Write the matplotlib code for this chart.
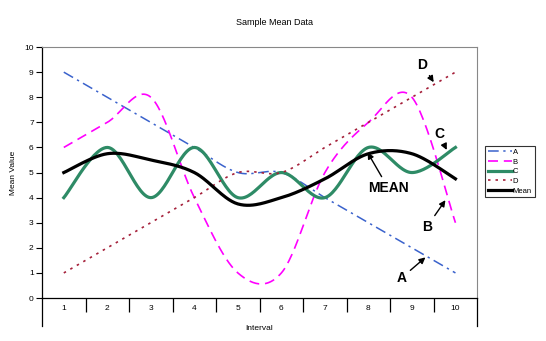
import numpy as np
import matplotlib
matplotlib.use("Agg")
import matplotlib.pyplot as plt

plt.rcParams["font.family"] = ["Liberation Sans", "DejaVu Sans"]

# interval categories and the four series plus their mean
intervals = [1, 2, 3, 4, 5, 6, 7, 8, 9, 10]
series_a = [9, 8, 7, 6, 5, 5, 4, 3, 2, 1]
series_b = [6, 7, 8, 4, 1, 1, 5, 7, 8, 3]
series_c = [4, 6, 4, 6, 4, 5, 4, 6, 5, 6]
series_d = [1, 2, 3, 4, 5, 5, 6, 7, 8, 9]
series_mean = [5, 5.75, 5.5, 5, 3.75, 4, 4.75, 5.75, 5.75, 4.75]


def smooth(x, y, steps=30):
    """Catmull-Rom style smoothing, like a spreadsheet 'smoothed line'."""
    p = np.column_stack([x, y]).astype(float)
    p = np.vstack([p[0], p, p[-1]])
    out = []
    for i in range(1, len(p) - 2):
        p0, p1, p2, p3 = p[i - 1], p[i], p[i + 1], p[i + 2]
        c1 = p1 + (p2 - p0) / 6
        c2 = p2 - (p3 - p1) / 6
        t = np.linspace(0, 1, steps)[:, None]
        seg = ((1 - t) ** 3 * p1 + 3 * (1 - t) ** 2 * t * c1
               + 3 * (1 - t) * t ** 2 * c2 + t ** 3 * p2)
        out.append(seg if i == 1 else seg[1:])
    out = np.vstack(out)
    return out[:, 0], out[:, 1]


fig = plt.figure(figsize=(5.46, 3.41), dpi=100)
ax = fig.add_axes([0.077, 0.126, 0.797, 0.736])

styles = [
    ("A", series_a, dict(color="#3a62cc", lw=1.1, dashes=(7, 3, 1.5, 3))),
    ("B", series_b, dict(color="#ff00ff", lw=1.2, dashes=(6, 3.5))),
    ("C", series_c, dict(color="#2e8b66", lw=2.3)),
    ("D", series_d, dict(color="#a5203a", lw=1.2, dashes=(1.5, 3))),
    ("Mean", series_mean, dict(color="black", lw=2.3)),
]
for name, vals, kw in styles:
    sx, sy = smooth(intervals, vals)
    ax.plot(sx, sy, label=name, **kw)

ax.set_xlim(0.5, 10.5)
ax.set_ylim(0, 10)
ax.set_yticks(range(0, 11))
ax.tick_params(axis="y", labelsize=6, length=4, width=0.8, pad=2)

# category labels sit between boundary ticks
ax.set_xticks(intervals)
ax.set_xticklabels([str(i) for i in intervals])
ax.set_xticks(np.arange(1.5, 10.5, 1), minor=True)
ax.tick_params(axis="x", which="major", length=0, labelsize=6, pad=5)
ax.tick_params(axis="x", which="minor", length=10, width=0.9)
for xa in (0, 1):
    ax.plot([xa, xa], [0, -0.11], transform=ax.transAxes, color="black",
            lw=0.9, clip_on=False)

for side in ("top", "right"):
    ax.spines[side].set_color("#888888")
    ax.spines[side].set_linewidth(0.8)
for side in ("left", "bottom"):
    ax.spines[side].set_linewidth(0.9)

ax.set_xlabel("Interval", fontsize=6, labelpad=6)
ax.set_ylabel("Mean Value", fontsize=6, labelpad=5)
fig.text(0.503, 0.927, "Sample Mean Data", ha="center", fontsize=6.5)

leg = ax.legend(loc="upper left", bbox_to_anchor=(0.888, 0.572),
                bbox_transform=fig.transFigure, fontsize=5.5, frameon=True,
                fancybox=False, edgecolor="black", handlelength=3.2,
                handletextpad=0.1, borderpad=0.35, labelspacing=0.3,
                borderaxespad=0)
leg.get_frame().set_linewidth(0.8)

arrow = dict(arrowstyle="-|>", color="black", lw=1.0, mutation_scale=9,
             shrinkA=1, shrinkB=0)
notes = [
    ("D", (9.24, 9.3), (9.5, 8.6)),
    ("C", (9.62, 6.55), (9.8, 5.9)),
    ("MEAN", (8.45, 4.4), (7.98, 5.8)),
    ("B", (9.35, 2.85), (9.77, 3.9)),
    ("A", (8.76, 0.8), (9.31, 1.62)),
]
for label, txt, tip in notes:
    ax.annotate(label, xy=tip, xytext=txt, ha="center", va="center",
                fontsize=10, fontweight="bold", arrowprops=arrow)

fig.savefig("out.png", dpi=100)
